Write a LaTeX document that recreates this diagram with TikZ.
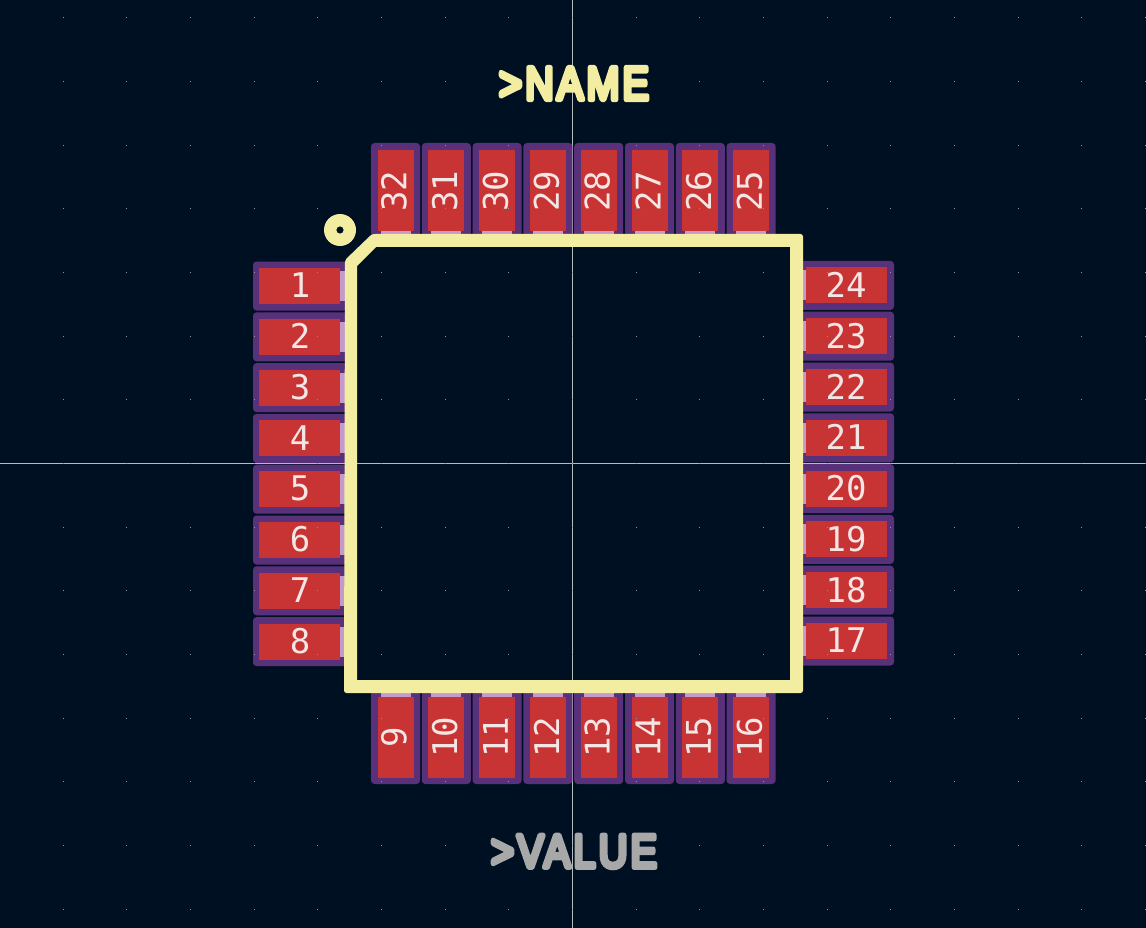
\documentclass[tikz,border=0pt]{standalone}
\usepackage{fontspec}
\usepackage{graphicx}
\setmainfont{Liberation Sans}
\newfontfamily\padfont{DejaVu Sans Mono}
\newfontfamily\silkfont[FakeBold=11,LetterSpace=8]{Liberation Sans}
\definecolor{bgc}{HTML}{001023}
\definecolor{padred}{HTML}{C83434}
\definecolor{padrim}{HTML}{59307A}
\definecolor{lilac}{HTML}{C39ACB}
\definecolor{silk}{HTML}{F2EDA1}
\definecolor{valgrey}{HTML}{A8A8A8}
\definecolor{crossc}{HTML}{B4BCBC}
\definecolor{gridc}{HTML}{8A949C}
\definecolor{padtext}{HTML}{F5E6E6}
\tikzset{
  rim/.style={fill=padrim,rounded corners=3.5pt},
  red/.style={fill=padred},
  lil/.style={fill=lilac},
  padnum/.style={text=padtext,inner sep=0pt,font=\padfont\fontsize{34}{34}\selectfont},
  silktext/.style={inner sep=0pt,anchor=center},
}
\begin{document}
\begin{tikzpicture}[x=1pt,y=-1pt]
\fill[bgc] (0,0) rectangle (1146,928);
\useasboundingbox (0,0) rectangle (1146,928);
\def\pitch{50.8}
% crosshair
\draw[crossc,line width=.8pt] (572.5,0) -- (572.5,928);
\draw[crossc,line width=.8pt] (0,463.5) -- (1146,463.5);
% left pads
\foreach \n [evaluate=\n as \c using {286+(\n-1)*\pitch}] in {1,...,8}{
  \fill[rim] (253,\c-24.5) rectangle (348,\c+24.5);
  \fill[red] (259,\c-18) rectangle (340,\c+18);
  \fill[lil] (340,\c-15) rectangle (346,\c+15);
  \node[padnum] (p\n) at (300,\c-.5) {\n};
}
% right pads
\foreach \n [evaluate=\n as \c using {641-(\n-17)*\pitch}] in {17,...,24}{
  \fill[rim] (799,\c-24.5) rectangle (894,\c+24.5);
  \fill[red] (806,\c-18) rectangle (887,\c+18);
  \fill[lil] (800,\c-15) rectangle (806,\c+15);
  \node[padnum] (p\n) at (846,\c-.5) {\n};
}
% bottom pads
\foreach \n [evaluate=\n as \c using {395.5+(\n-9)*\pitch}] in {9,...,16}{
  \fill[rim] (\c-24.5,690) rectangle (\c+24.5,784);
  \fill[red] (\c-18,697) rectangle (\c+18,778);
  \fill[lil] (\c-15,690) rectangle (\c+15,697);
  \node[padnum,rotate=90] (p\n) at (\c-1.5,737) {\n};
}
% top pads
\foreach \n [evaluate=\n as \c using {395.5+(32-\n)*\pitch}] in {25,...,32}{
  \fill[rim] (\c-24.5,143) rectangle (\c+24.5,238);
  \fill[red] (\c-18,150) rectangle (\c+18,231);
  \fill[lil] (\c-15,231) rectangle (\c+15,237);
  \node[padnum,rotate=90] (p\n) at (\c-1.5,191) {\n};
}
% grid dots
\foreach \i in {-9,...,9}{
  \foreach \j in {-7,...,7}{
    \fill[gridc] ({572.5+\i*63.65-.5},{463.5+\j*63.65-.5}) rectangle ++(1,1);
  }
}
% silk outline
\fill[silk,even odd rule,rounded corners=2.5pt]
  (345,260) -- (372,234) -- (803,234) -- (803,693) -- (344,693) -- cycle
  [sharp corners] (357,266) -- (376,247) -- (790,247) -- (790,680) -- (357,680) -- cycle;
% pin one marker
\fill[silk,even odd rule] (340,230) circle (16) (340,230) circle (3.7);
% texts
\node[silktext,text=silk] (nametext) at (574,83.5) {\special{pdf:code 1 j 1 J}\resizebox{150pt}{32pt}{\silkfont >NAME}};
\node[silktext,text=valgrey] (valuetext) at (574,851.5) {\special{pdf:code 1 j 1 J}\resizebox{166pt}{32pt}{\silkfont >VALUE}};
\end{tikzpicture}
\end{document}
